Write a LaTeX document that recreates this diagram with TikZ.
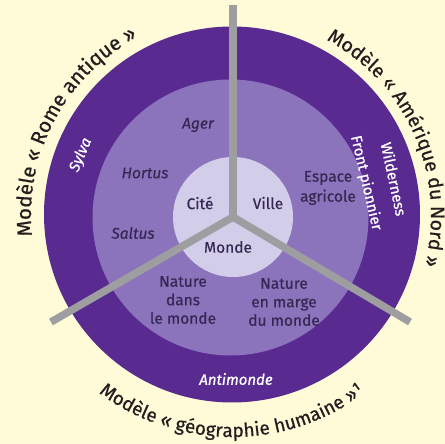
\documentclass[tikz,border=0pt]{standalone}
\usepackage{fontspec}
\setmainfont{Fira Sans}
\newfontfamily\outerfont{Fira Sans}[FakeBold=0.6]
\newfontfamily\labelfont{Fira Sans}[FakeBold=0.3]
\newfontfamily\whitefont{Fira Sans}[FakeBold=0.9]
\usetikzlibrary{decorations.text}
\definecolor{bgcream}{RGB}{255,250,216}
\definecolor{darkp}{RGB}{89,43,144}
\definecolor{midp}{RGB}{140,116,188}
\definecolor{lightp}{RGB}{210,205,232}
\definecolor{spokegray}{RGB}{158,158,160}
\definecolor{labeltext}{RGB}{52,40,82}
\definecolor{outertext}{RGB}{35,30,30}
\begin{document}
\begin{tikzpicture}[x=1pt,y=1pt,
  lbl/.style={text=labeltext, font=\labelfont\fontsize{15.5}{18.5}\selectfont, align=center, inner sep=0pt},
  itl/.style={text=labeltext, font=\labelfont\fontsize{15.5}{18.5}\selectfont\itshape, inner sep=0pt},
  wht/.style={text=white, font=\whitefont\fontsize{15}{18}\selectfont, inner sep=0pt},
  whtit/.style={text=white, font=\whitefont\fontsize{15}{18}\selectfont\itshape, inner sep=0pt},
  spoke/.style={draw=spokegray, line width=7.5pt},
  arctext/.style={decorate, decoration={text along path, text align=center, text color=outertext, text={#1}}}]
\fill[bgcream] (0,0) rectangle (445,444);
\useasboundingbox (0,0) rectangle (445,444);
% rings
\fill[darkp] (232,229.5) circle[radius=188];
\fill[midp] (230.5,226.5) circle[radius=138];
\fill[lightp] (233,227) circle[radius=60];
% spokes
\coordinate (J) at (233,227);
\coordinate (T) at (233,439);
\coordinate (L) at (51,122);
\coordinate (R) at (410,122);
\draw[spoke] (J) -- (T);
\draw[spoke] (J) -- (L);
\draw[spoke] (J) -- (R);
\fill[spokegray] (J) circle[radius=3.75];
% inner labels
\node[itl] (ager) at (198,319) {Ager};
\node[itl] (hortus) at (145,271) {Hortus};
\node[itl] (saltus) at (133,211) {Saltus};
\node[lbl] (cite) at (200,241) {Cité};
\node[lbl] (ville) at (268,241) {Ville};
\node[lbl] (monde) at (228,197) {Monde};
\node[lbl, font=\labelfont\fontsize{15.5}{20}\selectfont] (espace) at (328,256) {Espace\\agricole};
\node[lbl] (ndans) at (183,144) {Nature\\dans\\le monde};
\node[lbl] (nmarge) at (284,142) {Nature\\en marge\\du monde};
% ring labels
\node[whtit, rotate=67] (sylva) at (81,289) {Sylva};
\node[wht, rotate=-78] (wild) at (394,265) {Wilderness};
\node[wht, rotate=-77] (front) at (366,261) {Front pionnier};
\node[whtit] (antimonde) at (236,65) {Antimonde};
% outer curved titles
\path[arctext={|\outerfont\fontsize{20.5}{20.5}\selectfont|Modèle « Rome antique »}]
  ([shift={(232,229)}]212:201) arc[start angle=212, end angle=92, radius=201];
\path[arctext={|\outerfont\fontsize{19.5}{19.5}\selectfont|Modèle « Amérique du Nord »}]
  ([shift={(232,229)}]84:199) arc[start angle=84, end angle=-37, radius=199];
\path[arctext={|\outerfont\fontsize{19}{19}\selectfont|Modèle « géographie humaine »¹}]
  ([shift={(232,229)}]210:222) arc[start angle=210, end angle=330, radius=222];
\end{tikzpicture}
\end{document}
